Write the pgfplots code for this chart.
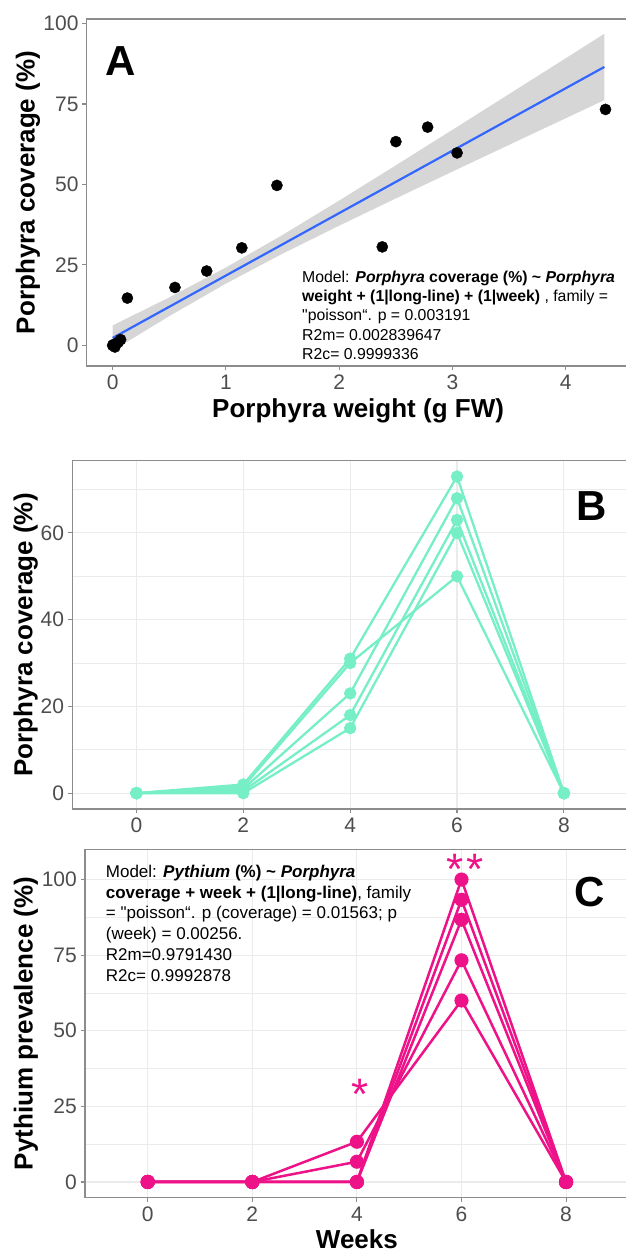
\documentclass[border=0pt]{standalone}
\usepackage{fontspec}
\setmainfont{Liberation Sans}[Ligatures=TeXOff]
\usepackage{pgfplots}
\pgfplotsset{compat=1.18}
\definecolor{blueline}{HTML}{3366FF}
\definecolor{ribbon}{HTML}{999999}
\definecolor{aqua}{HTML}{76EEC6}
\definecolor{pink}{HTML}{EE1289}
\definecolor{ticklab}{HTML}{4D4D4D}
\definecolor{frame}{HTML}{8C8C8C}
\definecolor{gridc}{HTML}{EBEBEB}
\newcommand{\fs}[1]{\fontsize{#1}{1.2\dimexpr #1pt\relax}\selectfont}
\pgfplotsset{
  base/.style={
    scale only axis,
    axis line style={frame, line width=1.2pt},
    tick align=outside,
    tick pos=left,
    major tick length=4.5pt,
    minor tick length=0pt,
    major tick style={frame, line width=1.1pt},
    /pgf/number format/assume math mode=true,
    ticklabel style={font=\fs{21}, text=ticklab},
    xticklabel style={inner ysep=4.5pt},
    yticklabel style={inner xsep=3.5pt},
    label style={font=\fs{26}\bfseries},
    xlabel style={at={(axis description cs:0.5,0)}, anchor=base},
    ylabel style={at={(axis description cs:0,0.5)}, anchor=base},
  },
  gridded/.style={
    grid=both,
    major grid style={gridc, line width=1.1pt},
    minor grid style={gridc, line width=0.6pt},
  },
  bline/.style={aqua, line width=2.3pt, mark=*, mark size=5pt, mark options={solid, fill=aqua, draw=aqua}},
  cline/.style={pink, line width=2.5pt, mark=*, mark size=5.8pt, mark options={solid, fill=pink, draw=pink}},
}
\begin{document}
\begin{tikzpicture}
\path[use as bounding box] (0,0) rectangle (626pt,1252pt);
\clip (0,0) rectangle (626pt,1252pt);
% ---------------- Panel A ----------------
\begin{axis}[base,
  at={(86.7pt,886pt)}, anchor=south west,
  width=542.8pt, height=347pt,
  xmin=-0.229, xmax=4.562, ymin=-6.4, ymax=101.4,
  xtick={0,1,2,3,4}, ytick={0,25,50,75,100},
  xlabel={Porphyra weight (g FW)},
  ylabel={Porphyra coverage (\%)},
  xlabel style={yshift=-52pt},
  ylabel style={yshift=52pt},
]
\addplot[only marks, mark=*, mark size=5.6pt, black] coordinates {
 (0,0) (0.01,0.3) (0.02,-0.5) (0.05,1.0) (0.07,1.8)
 (0.13,14.7) (0.55,18.0) (0.83,23.1) (1.14,30.3) (1.45,49.7)
 (2.38,30.6) (2.50,63.3) (2.78,67.8) (3.04,59.8) (4.35,73.3)
};
\addplot[draw=none, fill=ribbon, fill opacity=0.4] coordinates {
 (0,6.2) (0.5,14.91) (1,24.2) (1.5,34.31) (2,45.0) (2.5,55.94) (3,66.99) (3.5,78.09) (4,89.22) (4.34,96.8)
 (4.34,76.2) (4,70.58) (3.5,62.31) (3,54.01) (2.5,45.66) (2,37.2) (1.5,28.49) (1,19.2) (0.5,9.09) (0,-1.6)
} -- cycle;
\addplot[blueline, line width=2.2pt] coordinates {(0,2.3) (4.34,86.5)};
\end{axis}
% ---------------- Panel B ----------------
\begin{axis}[base, gridded,
  at={(72.3pt,443pt)}, anchor=south west,
  width=555.7pt, height=348.3pt,
  xmin=-1.2, xmax=9.2, ymin=-3.65, ymax=76.65,
  xtick={0,2,4,6,8}, ytick={0,20,40,60}, minor ytick={10,30,50,70},
  ylabel={Porphyra coverage (\%)},
  ylabel style={yshift=39.8pt},
]
\addplot[bline] coordinates {(0,0) (2,2) (4,31) (6,73) (8,0)};
\addplot[bline] coordinates {(0,0) (2,1.5) (4,30) (6,50) (8,0)};
\addplot[bline] coordinates {(0,0) (2,1) (4,23) (6,68) (8,0)};
\addplot[bline] coordinates {(0,0) (2,0.5) (4,18) (6,63) (8,0)};
\addplot[bline] coordinates {(0,0) (2,0) (4,15) (6,60) (8,0)};
\end{axis}
% ---------------- Panel C ----------------
\begin{axis}[base, gridded,
  at={(85pt,54.3pt)}, anchor=south west,
  width=543.8pt, height=348.4pt,
  xmin=-1.2, xmax=9.2, ymin=-5.2, ymax=110,
  xtick={0,2,4,6,8}, ytick={0,25,50,75,100}, minor ytick={12.5,37.5,62.5,87.5},
  xlabel={Weeks},
  ylabel={Pythium prevalence (\%)},
  xlabel style={yshift=-50.5pt},
  ylabel style={yshift=52.5pt},
]
\addplot[cline] coordinates {(0,0) (2,0) (4,13.3) (6,60) (8,0)};
\addplot[cline] coordinates {(0,0) (2,0) (4,6.7) (6,73.3) (8,0)};
\addplot[cline] coordinates {(0,0) (2,0) (4,0) (6,100) (8,0)};
\addplot[cline] coordinates {(0,0) (2,0) (4,0) (6,93.3) (8,0)};
\addplot[cline] coordinates {(0,0) (2,0) (4,0) (6,86.7) (8,0)};
\node[anchor=base, text=pink, font=\fs{44}, inner sep=0pt] at (axis cs:4.06,24) {*};
\node[anchor=base, text=pink, font=\fs{44}, inner sep=0pt] at (axis cs:6.07,98.5) {*\kern3pt*};
\end{axis}
% ---------------- Panel letters ----------------
\node[font=\fs{42}\bfseries, inner sep=0pt] at (121pt,1191pt) {A};
\node[font=\fs{42}\bfseries, inner sep=0pt] at (592pt,746pt) {B};
\node[font=\fs{42}\bfseries, inner sep=0pt] at (590pt,360pt) {C};
% ---------------- Annotations ----------------
\begin{scope}[every node/.style={anchor=base west, inner sep=0pt, font=\fs{15.8}}]
\node at (302pt,969.6pt) {Model: \textbf{\textit{Porphyra} coverage (\%) \textasciitilde{} \textit{Porphyra}}};
\node at (302pt,950.3pt) {\textbf{weight + (1|long-line) + (1|week)} , family =};
\node at (302pt,931pt) {"poisson“. p = 0.003191};
\node at (302pt,911.7pt) {R2m= 0.002839647};
\node at (302pt,892.4pt) {R2c= 0.9999336};
\end{scope}
\begin{scope}[every node/.style={anchor=base west, inner sep=0pt, font=\fs{17}}]
\node at (105.7pt,374.6pt) {Model: \textbf{\textit{Pythium} (\%) \textasciitilde{} \textit{Porphyra}}};
\node at (105.7pt,353.8pt) {\textbf{coverage + week + (1|long-line)}, family};
\node at (105.7pt,333pt) {= "poisson“. p (coverage) = 0.01563; p};
\node at (105.7pt,312.2pt) {(week) = 0.00256.};
\node at (105.7pt,291.4pt) {R2m=0.9791430};
\node at (105.7pt,270.6pt) {R2c= 0.9992878};
\end{scope}
\end{tikzpicture}
\end{document}
